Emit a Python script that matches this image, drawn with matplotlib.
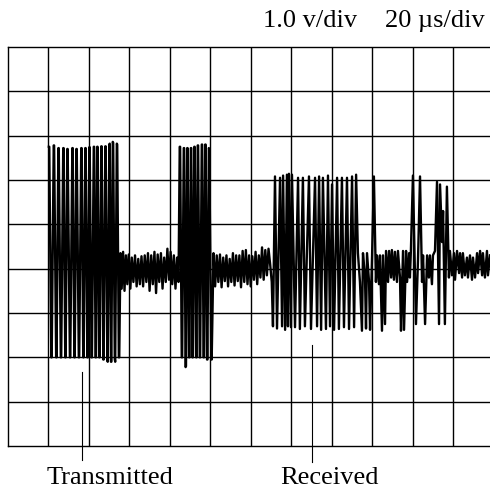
import matplotlib
matplotlib.use("Agg")
import matplotlib.pyplot as plt
from matplotlib.lines import Line2D
import numpy as np

# ---- trace data: time (µs) and voltage (V) ----
burst1_t = [20.2, 20.4, 21.4, 21.6, 22.6, 22.8, 23.8, 24.0, 24.9, 25.1, 26.1, 26.3,
            27.3, 27.5, 28.3, 28.5, 29.3, 29.5, 30.6, 30.8, 31.8, 32.0, 32.8, 33.0,
            33.8, 34.0, 35.0, 35.2, 36.2, 36.4, 37.2, 37.4, 38.2, 38.4, 39.2, 39.4,
            40.2, 40.4, 41.3, 41.5, 42.4, 42.6, 43.3, 43.5, 44.1, 44.3, 45.1, 45.3,
            46.1, 46.3, 47.1, 47.3, 48.1, 48.3, 49.1, 49.3, 50.1, 50.3, 50.9, 51.1,
            51.8, 52.0, 52.8, 53.0, 53.8, 54.0, 54.8, 55.0]
burst1_v = [2.75, 2.75, -2.0, -2.0, 2.78, 2.78, -2.0, -2.0, 2.72, 2.72, -2.0, -2.0,
            2.72, 2.72, -2.0, -2.0, 2.7, 2.7, -2.0, -2.0, 2.72, 2.72, -2.0, -2.0,
            2.7, 2.7, -2.0, -2.0, 2.72, 2.72, -2.0, -2.0, 2.72, 2.72, -2.0, -2.0,
            2.74, 2.74, -2.0, -2.0, 2.75, 2.75, -2.0, -2.0, 2.75, 2.75, -2.0, -2.0,
            2.76, 2.76, -2.05, -2.05, 2.76, 2.76, -2.05, -2.1, 2.8, 2.82, -2.1, -2.1,
            2.86, 2.84, -2.05, -2.1, 2.82, 2.8, -2.0, -2.0]

noise1_t = [55.6, 56.2, 56.9, 57.6, 58.3, 59.0, 59.7, 60.5, 61.2, 62.0, 62.8, 63.6,
            64.4, 65.2, 66.0, 66.8, 67.6, 68.4, 69.2, 70.0, 70.8, 71.6, 72.4, 73.2,
            74.0, 74.8, 75.6, 76.4, 77.2, 78.0, 78.8, 79.6, 80.4, 81.2, 82.0, 82.8,
            83.6, 84.3]
noise1_v = [0.35, -0.45, 0.38, -0.5, 0.3, -0.35, 0.32, -0.45, 0.25, -0.3, 0.3, -0.4,
            0.22, -0.35, 0.28, -0.4, 0.3, -0.3, 0.35, -0.5, 0.3, -0.35, 0.38, -0.55,
            0.32, -0.3, 0.35, -0.45, 0.25, -0.3, 0.45, -0.25, 0.38, -0.35, 0.3, -0.45,
            0.25, -0.3]

burst2_t = [84.9, 85.1, 85.9, 86.1, 86.9, 87.1, 87.8, 88.0, 88.6, 88.8, 89.5, 89.7,
            90.4, 90.6, 91.2, 91.4, 92.1, 92.3, 93.0, 93.2, 93.8, 94.0, 94.8, 95.0,
            95.8, 96.0, 96.7, 96.9, 97.5, 97.7, 98.4, 98.6, 99.3, 99.5, 100.5, 100.7]
burst2_v = [2.75, 2.75, -2.0, -2.0, 2.72, 2.72, -2.22, -2.2, 2.72, 2.72, -2.0, -2.0,
            2.72, 2.72, -2.0, -2.0, 2.75, 2.75, -2.0, -2.0, 2.78, 2.78, -2.0, -2.0,
            2.8, 2.8, -2.0, -2.0, 2.8, 2.8, -2.05, -2.05, 2.72, 2.7, -2.05, -2.05]

noise2_t = [101.6, 102.4, 103.2, 104.0, 104.8, 105.6, 106.4, 107.2, 108.0, 108.8,
            109.6, 110.4, 111.2, 112.0, 112.8, 113.6, 114.4, 115.2, 116.0, 116.8,
            117.6, 118.4, 119.2, 120.0, 120.8, 121.6, 122.4, 123.2, 124.0, 124.8,
            125.6, 126.4, 127.2, 128.0, 128.8, 129.6, 130.4]
noise2_v = [0.35, -0.4, 0.3, -0.3, 0.32, -0.42, 0.25, -0.28, 0.3, -0.4,
            0.22, -0.3, 0.35, -0.38, 0.3, -0.28, 0.3, -0.42, 0.4, -0.3,
            0.42, -0.35, 0.3, -0.4, 0.28, -0.25, 0.38, -0.35, 0.3, -0.2,
            0.48, -0.25, 0.42, -0.15, 0.45, 0.1, -0.3]

recv_t = [131.0, 132.0, 133.0, 134.5, 135.5, 136.0, 137.0, 137.9, 138.4, 138.9,
          139.9, 140.4, 141.9, 143.4, 144.3, 145.8, 146.8, 148.8, 149.8, 151.8,
          152.8, 153.8, 154.8, 155.7, 157.2, 158.2, 159.2, 160.2, 161.2, 162.7,
          163.6, 165.1, 166.1, 167.6, 168.6, 170.1, 171.1, 172.1]
recv_v = [-1.3, 2.08, -1.35, 2.05, -1.3, 2.1, -1.38, 2.12, -1.3, 2.14,
          -1.32, 2.12, -1.32, 2.05, -1.36, 2.05, -1.3, 2.08, -1.36, 2.05,
          -1.3, 2.08, -1.38, 2.05, -1.36, 2.1, -1.3, 1.9, -1.38, 2.05,
          -1.36, 2.05, -1.32, 2.05, -1.36, 2.08, -1.32, 2.12]

tail_t = [173.0, 174.0, 175.0, 175.5, 176.5, 177.0, 177.5, 178.5, 179.0, 180.0,
          180.9, 181.9, 182.4, 183.4, 183.9, 184.9, 185.4, 186.4, 186.9, 187.9,
          188.4, 189.4, 189.8, 190.8, 191.3, 192.3, 192.8, 193.8, 194.3, 195.3,
          195.8, 196.8, 197.3, 198.3, 198.7, 199.2, 200.2, 201.7, 202.7, 203.7,
          204.7, 205.2, 206.2, 207.2, 208.1, 208.6, 209.6, 210.1, 211.1, 212.1,
          213.1, 213.6, 214.6, 215.1, 216.0, 217.0, 218.0, 218.5, 219.5, 220.5,
          221.0, 222.0, 223.0, 223.5, 224.5, 224.9, 225.9, 226.9, 227.4, 228.4,
          229.4, 229.9, 230.9, 231.9, 232.4, 233.4, 234.4, 234.8, 235.8, 236.8,
          237.3, 238.3]
tail_v = [0.35, -0.3, -1.4, 0.35, -0.2, -1.35, 0.35, -0.3, -1.38, 0.3,
          2.08, -0.3, 0.3, -0.35, 0.3, -1.4, 0.3, -1.25, 0.4, -0.3,
          0.4, -0.2, 0.42, -0.25, 0.38, -0.3, 0.4, -0.2, -1.4, 0.4,
          -1.38, 0.4, -0.3, 0.35, -0.2, 0.42, 2.1, -1.25, 0.2, 2.08,
          -0.3, 0.3, -1.25, 0.3, -0.2, 0.3, -0.35, 0.3, 0.4, 1.96,
          -1.25, 1.9, 0.6, 1.3, -1.25, 1.85, -0.2, 0.4, -0.15, 0.35,
          -0.25, 0.4, -0.1, 0.35, -0.2, 0.35, -0.15, 0.25, -0.2, 0.3,
          -0.25, 0.25, -0.2, 0.35, -0.1, 0.4, -0.15, 0.35, -0.2, 0.4,
          -0.15, 0.3]

time_us = np.concatenate([burst1_t, noise1_t, burst2_t, noise2_t, recv_t, tail_t])
volts = np.concatenate([burst1_v, noise1_v, burst2_v, noise2_v, recv_v, tail_v])

x_ticks = list(range(0, 240, 20))     # 20 µs/div
y_ticks = list(range(-4, 6))          # 1.0 V/div
scale_labels = ["1.0 v/div", "20 µs/div"]
trace_labels = ["Transmitted", "Received"]

W = H = 490
fig = plt.figure(figsize=(4.9, 4.9), dpi=100)
ax = fig.add_axes([8 / W, 1 - 446 / H, (W - 8) / W, (446 - 47) / H])
ax.set_xlim(0, 238.3)
ax.set_ylim(-4, 5)
for xt in x_ticks[1:]:
    ax.axvline(xt, color="black", lw=1.0, zorder=1)
for yt in y_ticks[1:-1]:
    ax.axhline(yt, color="black", lw=1.0, zorder=1)
ax.set_xticks([])
ax.set_yticks([])
for s in ["left", "top", "bottom"]:
    ax.spines[s].set_linewidth(1.0)
ax.spines["right"].set_visible(False)

ax.plot(time_us, volts, color="black", lw=1.7, zorder=3)

serif = ["Liberation Serif", "DejaVu Serif"]
fig.text(263 / W, 1 - 27 / H, scale_labels[0], family=serif, fontsize=19,
         ha="left", va="baseline")
fig.text(485 / W, 1 - 27 / H, scale_labels[1], family=serif, fontsize=19,
         ha="right", va="baseline")

fig.text(110 / W, 1 - 484 / H, trace_labels[0], family=serif, fontsize=19,
         ha="center", va="baseline")
fig.text(329 / W, 1 - 484 / H, trace_labels[1], family=serif, fontsize=19,
         ha="center", va="baseline")
fig.add_artist(Line2D([82 / W, 82 / W], [1 - 372 / H, 1 - 460 / H],
                      transform=fig.transFigure, color="black", lw=0.8))
fig.add_artist(Line2D([312 / W, 312 / W], [1 - 345 / H, 1 - 462 / H],
                      transform=fig.transFigure, color="black", lw=0.8))

fig.savefig("out.png", dpi=100)
